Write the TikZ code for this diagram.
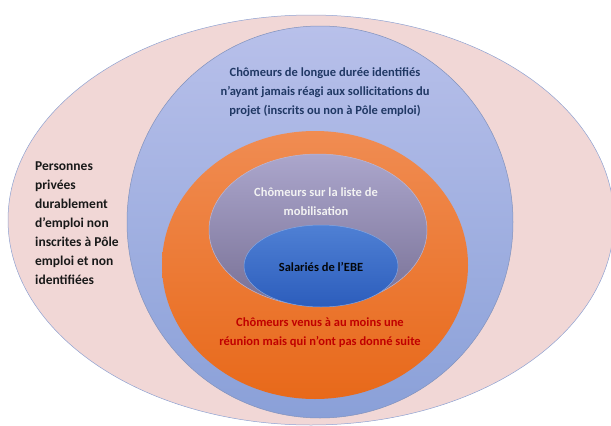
\documentclass[tikz,border=0pt]{standalone}
\usepackage{fontspec}
\setmainfont{Carlito}
\usetikzlibrary{shapes.geometric}
\definecolor{pinkfill}{HTML}{F1D7D6}
\definecolor{ringedge}{HTML}{8FA2D2}
\definecolor{bluetop}{HTML}{B8C0EA}
\definecolor{bluebot}{HTML}{8AA0D8}
\definecolor{orangetop}{HTML}{F08C52}
\definecolor{orangebot}{HTML}{E8691A}
\definecolor{mauvetop}{HTML}{ABA6CC}
\definecolor{mauvebot}{HTML}{787095}
\definecolor{ebetop}{HTML}{4F80D4}
\definecolor{ebebot}{HTML}{2C5DBC}
\definecolor{navytext}{HTML}{203864}
\definecolor{redtext}{HTML}{C00000}
\definecolor{paletext}{HTML}{F2F2F2}
\begin{document}
\begin{tikzpicture}[x=1pt,y=-1pt,
  ring/.style={ellipse, inner sep=0pt, line width=0.5pt},
  txt/.style={font=\bfseries\fontsize{12.5}{19}\selectfont, align=center}]
\useasboundingbox (0,0) rectangle (611,426);
\clip (0,0) rectangle (611,426);
% the rings, from the outside in
\node[ring, fill=pinkfill, draw=ringedge, minimum width=606pt, minimum height=410pt] (outer) at (311,220) {};
\node[ring, top color=bluetop, bottom color=bluebot, draw=ringedge!90!black, minimum width=386pt, minimum height=392pt] (ldur) at (320,222) {};
\node[ring, top color=orangetop, bottom color=orangebot, minimum width=306pt, minimum height=268pt] (venus) at (315,265) {};
\node[ring, top color=mauvetop, bottom color=mauvebot, draw=mauvetop!80!white, minimum width=218pt, minimum height=152pt] (liste) at (318,230) {};
\node[ring, top color=ebetop, bottom color=ebebot, draw=ebetop!70!white, minimum width=154pt, minimum height=82pt] (ebe) at (321,266) {};
% the labels
\node[txt, text=navytext] (ldurtxt) at (325,92) {Chômeurs de longue durée identifiés\\n’ayant jamais réagi aux sollicitations du\\projet (inscrits ou non à Pôle emploi)};
\node[txt, text=paletext] (listetxt) at (316,201.5) {Chômeurs sur la liste de\\mobilisation};
\node[txt, text=black!90!navytext] (ebetxt) at (321,267) {Salariés de l’EBE};
\node[txt, text=redtext] (venustxt) at (320,332.5) {Chômeurs venus à au moins une\\réunion mais qui n’ont pas donné suite};
\node[txt, font=\bfseries\fontsize{13.5}{19}\selectfont, align=left, text=black!90, anchor=west, inner sep=0pt] (outertxt) at (35,223.5) {Personnes\\privées\\durablement\\d’emploi non\\inscrites à Pôle\\emploi et non\\identifiées};
\end{tikzpicture}
\end{document}
